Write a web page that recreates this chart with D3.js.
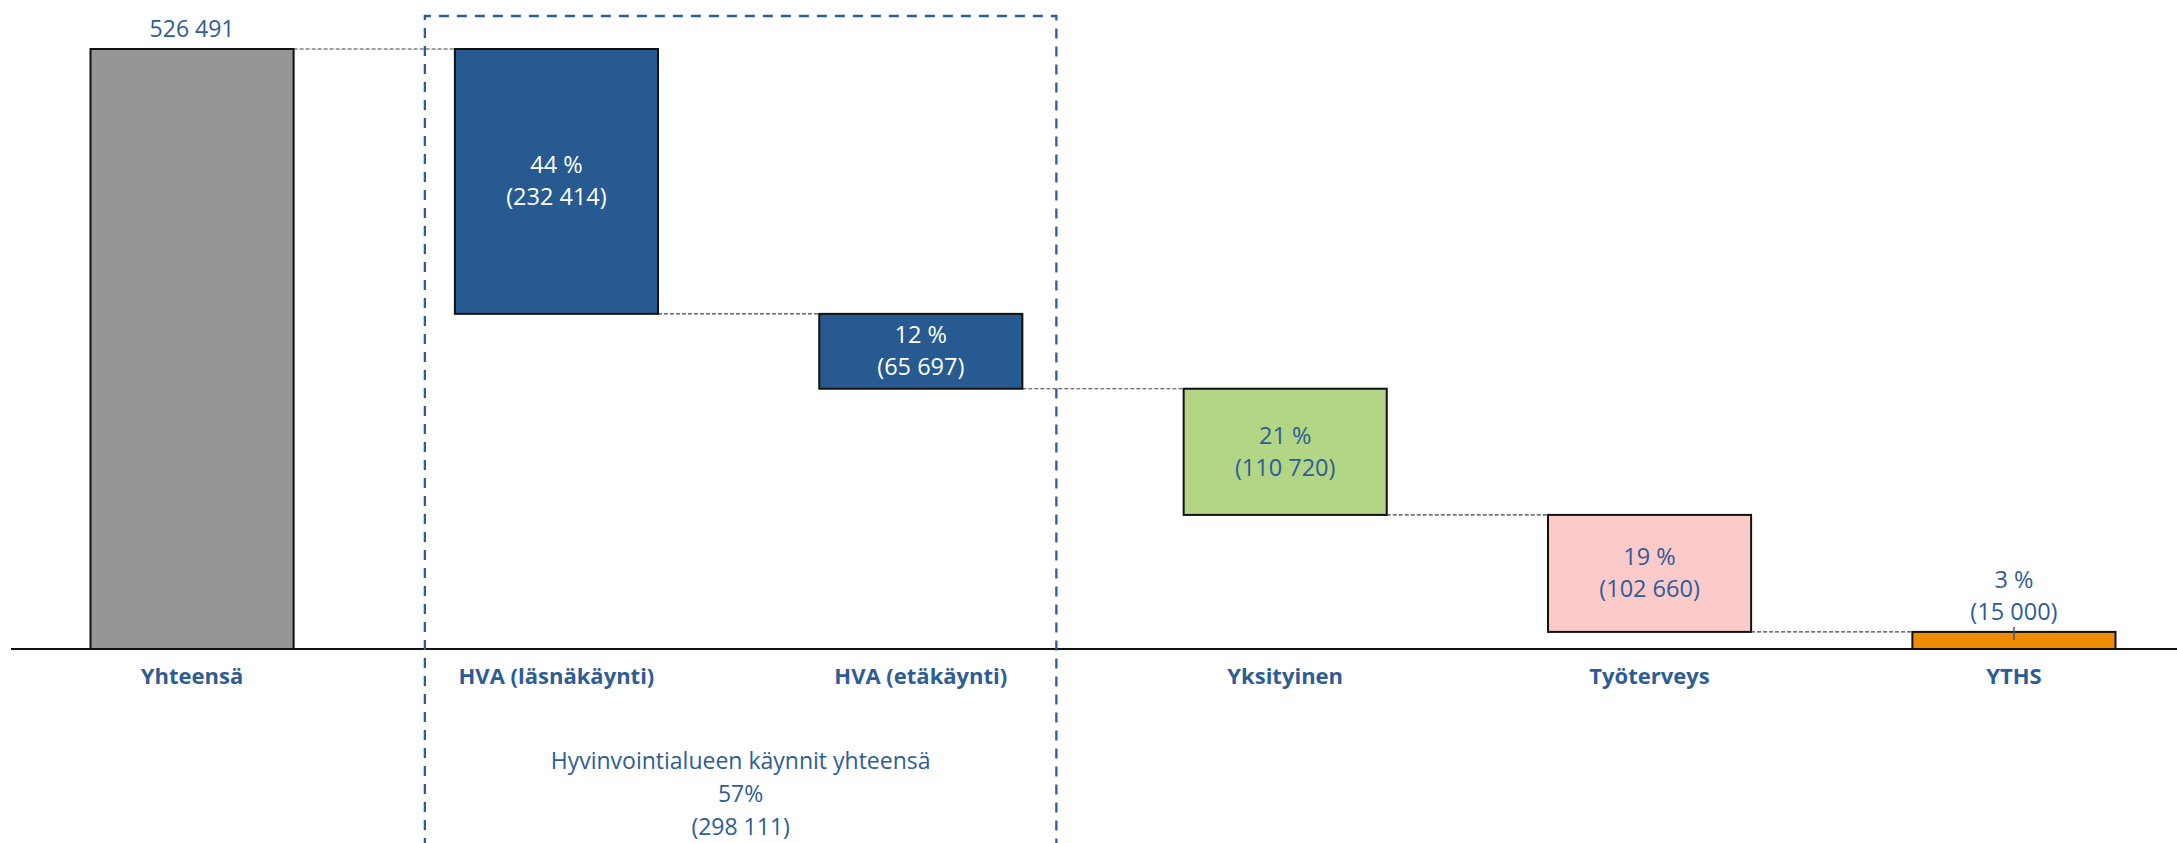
<!DOCTYPE html>
<html>
<head>
<meta charset="utf-8">
<script src="https://cdn.jsdelivr.net/npm/d3@7"></script>
<style>
  body { margin: 0; background: #fff; }
  svg { display: block; }
</style>
</head>
<body>
<svg id="chart"></svg>
<script>
// Kaikki käynnit ja niiden jakautuminen
const categories = ["Yhteensä", "HVA (läsnäkäynti)", "HVA (etäkäynti)", "Yksityinen", "Työterveys", "YTHS"];
const visits = [526491, 232414, 65697, 110720, 102660, 15000];
const shares = [null, "44 %", "12 %", "21 %", "19 %", "3 %"];
const fills = ["#969696", "#265A91", "#265A91", "#B3D586", "#FDCACA", "#F08C00"];
const groupLabel = ["Hyvinvointialueen käynnit yhteensä", "57%", "(298 111)"];

const width = 2177, height = 843;
const labelBlue = "#2E5D95";
const font = "'Open Sans', 'Noto Sans', sans-serif";

const svg = d3.select("#chart")
    .attr("width", width)
    .attr("height", height);

const x = d3.scaleBand()
    .domain(categories)
    .range([90.5, 2115.5])
    .paddingInner(0.4426)
    .paddingOuter(0);

const y = d3.scaleLinear()
    .domain([0, visits[0]])
    .range([649, 49]);

const fmt = v => d3.format(",")(v).replace(/,/g, " ");

// waterfall: the total first, then each part hangs from what is left
let remaining = visits[0];
const bars = categories.map((c, i) => {
    if (i === 0) return { cat: c, top: visits[0], bottom: 0, i };
    const top = remaining;
    remaining -= visits[i];
    return { cat: c, top: top, bottom: remaining, i };
});

// connectors between bars
svg.append("g")
    .selectAll("line")
    .data(bars.slice(0, -1))
    .enter()
    .append("line")
    .attr("x1", d => x(d.cat) + x.bandwidth())
    .attr("x2", d => x(categories[d.i + 1]))
    .attr("y1", d => y(d.i === 0 ? d.top : d.bottom))
    .attr("y2", d => y(d.i === 0 ? d.top : d.bottom))
    .attr("stroke", "#444")
    .attr("stroke-width", 1.2)
    .attr("stroke-dasharray", "4,2");

svg.append("g")
    .selectAll("rect")
    .data(bars)
    .enter()
    .append("rect")
    .attr("x", d => x(d.cat))
    .attr("y", d => y(d.top))
    .attr("width", x.bandwidth())
    .attr("height", d => y(d.bottom) - y(d.top))
    .attr("fill", (d, i) => fills[i])
    .attr("stroke", "#111")
    .attr("stroke-width", 2);

// baseline
svg.append("line")
    .attr("x1", 11)
    .attr("x2", width)
    .attr("y1", y(0))
    .attr("y2", y(0))
    .attr("stroke", "#111")
    .attr("stroke-width", 2);

// dashed frame around the hyvinvointialue bars
const boxLeft = x(categories[1]) - 30;
const boxRight = x(categories[2]) + x.bandwidth() + 34;
svg.append("path")
    .attr("d", `M${boxLeft},${height + 5} V16 H${boxRight} V${height + 5}`)
    .attr("fill", "none")
    .attr("stroke", labelBlue)
    .attr("stroke-width", 2.3)
    .attr("stroke-dasharray", "10,8");

// total label
svg.append("text")
    .attr("x", x(categories[0]) + x.bandwidth() / 2)
    .attr("y", y(visits[0]) - 12)
    .attr("text-anchor", "middle")
    .attr("font-family", font)
    .attr("font-size", 23)
    .attr("fill", labelBlue)
    .text(fmt(visits[0]));

// share labels
const lastIdx = categories.length - 1;
bars.slice(1).forEach(d => {
    const cx = x(d.cat) + x.bandwidth() / 2;
    let cy = (y(d.top) + y(d.bottom)) / 2;
    if (d.i === lastIdx) cy = y(d.top) - 36;  // too thin, label above
    const g = svg.append("text")
        .attr("text-anchor", "middle")
        .attr("font-family", font)
        .attr("font-size", 23.5)
        .attr("fill", d.i <= 2 ? "#fff" : labelBlue);
    g.append("tspan").attr("x", cx).attr("y", cy - 8).text(shares[d.i]);
    g.append("tspan").attr("x", cx).attr("y", cy + 24).text(`(${fmt(visits[d.i])})`);
});

// small tick on the YTHS bar
const lastBar = bars[lastIdx];
svg.append("line")
    .attr("x1", x(lastBar.cat) + x.bandwidth() / 2)
    .attr("x2", x(lastBar.cat) + x.bandwidth() / 2)
    .attr("y1", y(lastBar.top) - 5)
    .attr("y2", y(lastBar.top) + 8)
    .attr("stroke", labelBlue)
    .attr("stroke-width", 1.5);

// category labels
svg.append("g")
    .selectAll("text")
    .data(categories)
    .enter()
    .append("text")
    .attr("x", d => x(d) + x.bandwidth() / 2)
    .attr("y", 684)
    .attr("text-anchor", "middle")
    .attr("font-family", font)
    .attr("font-size", 22)
    .attr("font-weight", "bold")
    .attr("fill", labelBlue)
    .text(d => d);

// group total under the frame
const gx = (boxLeft + boxRight) / 2;
svg.append("g")
    .selectAll("text")
    .data(groupLabel)
    .enter()
    .append("text")
    .attr("x", gx)
    .attr("y", (d, i) => 769 + i * 33)
    .attr("text-anchor", "middle")
    .attr("font-family", font)
    .attr("font-size", 23)
    .attr("fill", labelBlue)
    .text(d => d);
</script>
</body>
</html>
